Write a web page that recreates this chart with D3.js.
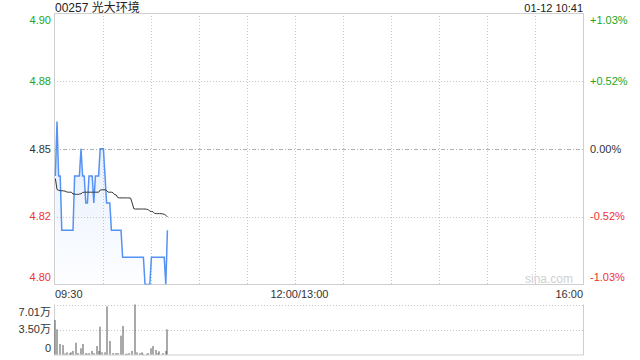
<!DOCTYPE html>
<html>
<head>
<meta charset="utf-8">
<script src="https://cdn.jsdelivr.net/npm/d3@7/dist/d3.min.js"></script>
<style>
  html, body { margin: 0; padding: 0; background: #fff; }
  svg { display: block; font-family: "Liberation Sans", Arial, "Noto Sans CJK SC", sans-serif; }
</style>
</head>
<body>
<svg id="chart" width="640" height="360"></svg>
<script>
// ---- data ----
const title = "00257 光大环境";
const stamp = "01-12 10:41";
const prevClose = 4.85;
const priceTicks = [4.90, 4.875, 4.85, 4.825, 4.80];
const priceTickLabels = ["4.90", "4.88", "4.85", "4.82", "4.80"];
const pctTickLabels = ["+1.03%", "+0.52%", "0.00%", "-0.52%", "-1.03%"];
const timeTickMinutes = [0, 150, 330];
const timeTickLabels = ["09:30", "12:00/13:00", "16:00"];
const volTicks = [7.01, 3.505, 0];
const volTickLabels = ["7.01万", "3.50万", "0"];
const totalMinutes = 330;

// price per minute from 09:30
const price = [
  4.84, 4.86, 4.84, 4.84,
  4.82, 4.82, 4.82, 4.82, 4.82, 4.82, 4.82, 4.82,
  4.84, 4.84, 4.84, 4.84, 4.85, 4.84, 4.84, 4.83, 4.83, 4.84, 4.84, 4.84,
  4.83, 4.84, 4.84, 4.84, 4.85, 4.85, 4.85, 4.84, 4.83, 4.83, 4.83, 4.82,
  4.82, 4.82, 4.82, 4.82, 4.82, 4.82,
  4.81, 4.81, 4.81, 4.81, 4.81, 4.81, 4.81, 4.81, 4.81, 4.81, 4.81, 4.81, 4.81, 4.81,
  4.80, 4.80, 4.80, 4.80,
  4.81, 4.81, 4.81, 4.81, 4.81, 4.81, 4.81, 4.81, 4.81,
  4.80, 4.82
];
// average price per minute
const avgPrice = [
  4.839, 4.835, 4.8347, 4.8346, 4.8345, 4.8345, 4.8344, 4.8341, 4.834, 4.834, 4.834,
  4.8333, 4.8333, 4.8332, 4.8332, 4.8333, 4.8334,
  4.8339, 4.834, 4.834, 4.834, 4.834, 4.834, 4.834, 4.834, 4.834, 4.834, 4.834,
  4.8348, 4.8349, 4.8349, 4.8349, 4.8346,
  4.834, 4.834, 4.834, 4.8338,
  4.8331, 4.8330,
  4.8320, 4.8319, 4.8319, 4.8319, 4.8319, 4.8319, 4.8319, 4.8319, 4.8318,
  4.8300,
  4.8279, 4.8278, 4.8278, 4.8278, 4.8278, 4.8278, 4.8278, 4.8278, 4.8277, 4.8276,
  4.8270, 4.8269, 4.8268,
  4.8262, 4.8261, 4.8261, 4.8261, 4.8261, 4.8260, 4.8259,
  4.8255, 4.8249
];
// volume per minute, in 万
const volume = [
  4.84, 3.53, 0, 1.47, 0, 1.33, 0.15, 0.3, 0, 0.2,
  0.3, 0.5, 0, 1.65, 0.2, 0, 0.87, 1.47, 0, 0.2,
  0.1, 0.2, 0, 0.5, 0.2, 0, 1.19, 0.5, 3.9, 0.3,
  0, 0.3, 6.75, 0, 1.9, 0, 0.2, 0, 0.2, 0.2,
  0, 2.64, 4.0, 0, 0.1, 0.1, 0.2, 0, 0.5, 0,
  7.01, 0.3, 0, 0.2, 0.3, 0.1, 0, 0.1, 0.2, 0,
  0.87, 1.19, 0, 0.63, 0.2, 0.45, 0, 0.2, 0, 0.5,
  3.53
];

// ---- layout ----
const L = 54, R = 583.5;
const pTop = 13, pBot = 284.5;
const vTop = 304.5, vBot = 354.5;
const GREEN = "#22a622", RED = "#f03232", DARK = "#333";

const svg = d3.select("#chart");
const x = d3.scaleLinear().domain([0, totalMinutes]).range([55.4, R]);
const y = d3.scaleLinear().domain([4.80, 4.90]).range([pBot, pTop]);
const yv = d3.scaleLinear().domain([0, 7.01]).range([vBot, vTop]);

const defs = svg.append("defs");
defs.append("clipPath").attr("id", "clipP").append("rect")
  .attr("x", L).attr("y", pTop).attr("width", R - L).attr("height", pBot - pTop);
const grad = defs.append("linearGradient").attr("id", "fillG")
  .attr("gradientUnits", "userSpaceOnUse").attr("x1", 0).attr("x2", 0)
  .attr("y1", y(4.86)).attr("y2", pBot);
grad.append("stop").attr("offset", "0").attr("stop-color", "#4f8ff5").attr("stop-opacity", 0.16);
grad.append("stop").attr("offset", "1").attr("stop-color", "#4f8ff5").attr("stop-opacity", 0.01);

// vertical grid (price pane)
const vgrid = d3.range(30, totalMinutes, 30);
svg.append("g").selectAll("line").data(vgrid).join("line")
  .attr("x1", d => Math.round(x(d)) + 0.5).attr("x2", d => Math.round(x(d)) + 0.5)
  .attr("y1", pTop).attr("y2", pBot)
  .attr("stroke", "#c8c8c8").attr("stroke-dasharray", "1,2");

// horizontal grid (price pane)
svg.append("g").selectAll("line").data(priceTicks.slice(1, -1)).join("line")
  .attr("x1", L).attr("x2", R)
  .attr("y1", d => Math.round(y(d)) + 0.5).attr("y2", d => Math.round(y(d)) + 0.5)
  .attr("stroke", d => d === prevClose ? "#b0b0b0" : "#c8c8c8")
  .attr("stroke-dasharray", d => d === prevClose ? "4,2,1,2" : "1,2");

// volume pane grid
svg.append("g").selectAll("line").data([7.01, 3.505]).join("line")
  .attr("x1", L).attr("x2", R)
  .attr("y1", d => Math.round(yv(d)) + 0.5).attr("y2", d => Math.round(yv(d)) + 0.5)
  .attr("stroke", "#c8c8c8").attr("stroke-dasharray", "1,2");

// frames
svg.append("rect").attr("x", L + 0.5).attr("y", pTop + 0.5)
  .attr("width", R - L - 0.5).attr("height", pBot - pTop - 0.5)
  .attr("fill", "none").attr("stroke", "#cfcfcf");
svg.append("line").attr("x1", L + 0.5).attr("x2", L + 0.5).attr("y1", vTop).attr("y2", vBot + 0.5).attr("stroke", "#cfcfcf");
svg.append("line").attr("x1", R).attr("x2", R).attr("y1", vTop).attr("y2", vBot + 0.5).attr("stroke", "#cfcfcf");
svg.append("line").attr("x1", L).attr("x2", R).attr("y1", vBot + 0.5).attr("y2", vBot + 0.5).attr("stroke", "#cfcfcf");

// watermark
svg.append("text").attr("x", 573).attr("y", 283).attr("text-anchor", "end")
  .attr("font-size", 12).attr("fill", "#d0d0d0").text("sina.com");

// price area + line
const gP = svg.append("g").attr("clip-path", "url(#clipP)");
gP.append("path").datum(price)
  .attr("d", d3.area().x((d, i) => x(i)).y0(pBot).y1(d => y(d)))
  .attr("fill", "url(#fillG)");
gP.append("path").datum(price)
  .attr("d", d3.line().x((d, i) => x(i)).y(d => y(d)))
  .attr("fill", "none").attr("stroke", "#5592f5").attr("stroke-width", 1.5);
gP.append("path").datum(avgPrice)
  .attr("d", d3.line().x((d, i) => x(i)).y(d => y(d)))
  .attr("fill", "none").attr("stroke", "#333").attr("stroke-width", 1);

// volume bars
svg.append("g").selectAll("rect").data(volume).join("rect")
  .attr("x", (d, i) => Math.round(x(i)) - 0.5)
  .attr("width", 1)
  .attr("y", d => yv(d))
  .attr("height", d => vBot - yv(d))
  .attr("fill", "#555");

// left price labels
const colorFor = (d) => d > prevClose ? GREEN : (d < prevClose ? RED : DARK);
const labelY = (d, i) => {
  const yy = y(d);
  if (i === 0) return yy + 7;
  if (i === priceTicks.length - 1) return yy - 7;
  return yy;
};
svg.append("g").selectAll("text").data(priceTicks).join("text")
  .attr("x", 51).attr("y", labelY).attr("dy", "0.35em")
  .attr("text-anchor", "end").attr("font-size", 11)
  .attr("fill", colorFor).text((d, i) => priceTickLabels[i]);
svg.append("g").selectAll("text").data(priceTicks).join("text")
  .attr("x", 590).attr("y", labelY).attr("dy", "0.35em")
  .attr("text-anchor", "start").attr("font-size", 11)
  .attr("fill", colorFor).text((d, i) => pctTickLabels[i]);

// volume labels
svg.append("g").selectAll("text").data(volTicks).join("text")
  .attr("x", 51)
  .attr("y", (d, i) => i === 0 ? yv(d) + 8 : (i === volTicks.length - 1 ? yv(d) - 6 : yv(d)))
  .attr("dy", "0.35em").attr("text-anchor", "end").attr("font-size", 11)
  .attr("fill", DARK).text((d, i) => volTickLabels[i]);

// time labels
svg.append("g").selectAll("text").data(timeTickMinutes).join("text")
  .attr("x", (d, i) => i === 0 ? 55 : (i === timeTickMinutes.length - 1 ? 583 : x(d) + 4))
  .attr("y", 294).attr("dy", "0.35em")
  .attr("text-anchor", (d, i) => i === 0 ? "start" : (i === timeTickMinutes.length - 1 ? "end" : "middle"))
  .attr("font-size", 11).attr("fill", DARK)
  .text((d, i) => timeTickLabels[i]);

// header
svg.append("text").attr("x", 55).attr("y", 11.5).attr("font-size", 12).attr("fill", "#222").text(title);
svg.append("text").attr("x", 583).attr("y", 11.5).attr("text-anchor", "end")
  .attr("font-size", 11).attr("fill", "#222").text(stamp);
</script>
</body>
</html>
